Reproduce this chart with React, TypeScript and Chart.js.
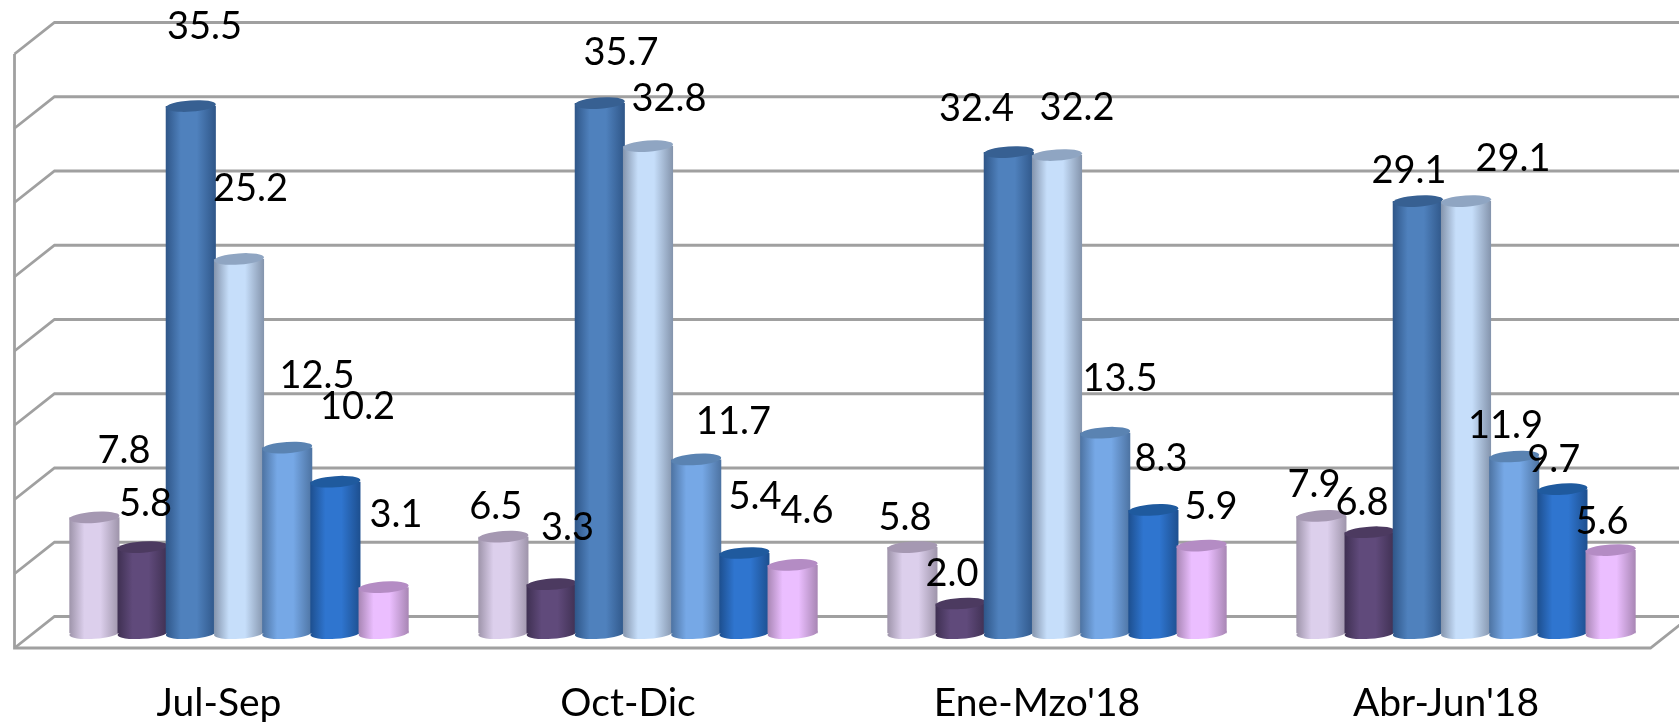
import React, { useEffect, useRef } from "react";
import { Chart, registerables } from "chart.js";

Chart.register(...registerables);

const categories = ["Jul-Sep", "Oct-Dic", "Ene-Mzo'18", "Abr-Jun'18"];
const serieA = [7.8, 6.5, 5.8, 7.9];
const serieB = [5.8, 3.3, 2.0, 6.8];
const serieC = [35.5, 35.7, 32.4, 29.1];
const serieD = [25.2, 32.8, 32.2, 29.1];
const serieE = [12.5, 11.7, 13.5, 11.9];
const serieF = [10.2, 5.4, 8.3, 9.7];
const serieG = [3.1, 4.6, 5.9, 5.6];
const seriesValues = [serieA, serieB, serieC, serieD, serieE, serieF, serieG];

const bodyColors = ["#DCCFEC", "#604A7B", "#4F81BD", "#C6DEFA", "#76A8E6", "#2F75CF", "#EBBEFF"];
const edgeColors = ["#9E94AA", "#3F3052", "#2F5688", "#8494AC", "#4D73A2", "#1D4F8F", "#A886B4"];
const topColors = ["#A598B2", "#4C3A60", "#376092", "#8FA5C2", "#5A83B2", "#1F5A9E", "#B48CC4"];

// Manual placement of each value label relative to the top of its bar (as in the source chart)
const labelShiftX = [
  [29.6, -7.7, -7.4, -7.4],
  [3, 15.9, -8.6, -7.6],
  [13.7, 21.2, -32.3, -8.8],
  [11.5, 21, 20, 47],
  [29.8, 37.2, 14.8, -8.7],
  [22.2, 10.6, 7.6, -8.7],
  [12.4, 14.4, 9.4, -8.6],
];
const labelShiftY = [
  [-66.7, -30, -29.4, -30.7],
  [-43.4, -56.5, -29.8, -29.5],
  [-79.3, -50.8, -43.4, -30],
  [-70.3, -47.4, -47.3, -41.9],
  [-71.9, -37.8, -54, -30.3],
  [-75, -56.3, -51.2, -29.5],
  [-72.5, -54.2, -38.4, -28.3],
];

const FONT = 'Lato, sans-serif';
const DEPTH_X = 20;
const BACK_Y = 16.7;
const FRONT_Y = 14.8;
const ELLIPSE_RY = 5.6;
const ELLIPSE_TILT = -0.07;
const GRID = "#A0A0A0";

const sideGradient = (ctx: CanvasRenderingContext2D, x: number, w: number, body: string, edge: string) => {
  const g = ctx.createLinearGradient(x - w / 2, 0, x + w / 2, 0);
  g.addColorStop(0, edge);
  g.addColorStop(0.3, body);
  g.addColorStop(0.62, body);
  g.addColorStop(1, edge);
  return g;
};

const cylinderPlugin = {
  id: "cylinder",
  beforeDatasetsDraw(chart: any) {
    const { ctx, scales } = chart;
    const xS = scales.x;
    const yS = scales.y;
    const frontL = xS.left - DEPTH_X;
    const backL = xS.left + DEPTH_X;
    const frontR = xS.right - DEPTH_X;
    const backR = xS.right + DEPTH_X;

    ctx.save();
    ctx.strokeStyle = GRID;
    ctx.lineWidth = 2.8;
    for (const tick of yS.ticks) {
      const y = yS.getPixelForValue(tick.value);
      ctx.beginPath();
      ctx.moveTo(frontL, y + FRONT_Y);
      ctx.lineTo(backL, y - BACK_Y);
      ctx.lineTo(backR, y - BACK_Y);
      ctx.stroke();
    }
    const y0 = yS.getPixelForValue(0);
    const yMax = yS.getPixelForValue(yS.max);
    ctx.beginPath();
    ctx.moveTo(frontL, yMax + FRONT_Y);
    ctx.lineTo(frontL, y0 + FRONT_Y);
    ctx.lineTo(frontR, y0 + FRONT_Y);
    ctx.lineTo(backR, y0 - BACK_Y);
    ctx.stroke();
    ctx.restore();

    // Later series sit in front of earlier ones
    chart.data.datasets.forEach((_: any, d: number) => {
      const meta = chart.getDatasetMeta(d);
      meta.data.forEach((el: any) => {
        const fill = sideGradient(ctx, el.x, el.width, bodyColors[d], edgeColors[d]);
        el.options = { ...el.options, backgroundColor: fill };
        ctx.save();
        ctx.fillStyle = fill;
        ctx.beginPath();
        ctx.ellipse(el.x, el.base, el.width / 2, ELLIPSE_RY, ELLIPSE_TILT, 0, Math.PI * 2);
        ctx.fill();
        ctx.restore();
      });
      meta.controller.draw();
      meta.data.forEach((el: any) => {
        ctx.save();
        ctx.fillStyle = topColors[d];
        ctx.beginPath();
        ctx.ellipse(el.x, el.y, el.width / 2, ELLIPSE_RY, ELLIPSE_TILT, 0, Math.PI * 2);
        ctx.fill();
        ctx.restore();
      });
    });

    ctx.save();
    ctx.fillStyle = "#000000";
    ctx.font = `38px ${FONT}`;
    ctx.textAlign = "center";
    ctx.textBaseline = "middle";
    chart.data.datasets.forEach((ds: any, d: number) => {
      chart.getDatasetMeta(d).data.forEach((el: any, c: number) => {
        ctx.fillText(ds.data[c].toFixed(1), el.x + labelShiftX[d][c], el.y + labelShiftY[d][c]);
      });
    });
    ctx.restore();
    return false;
  },
};

export default function App() {
  const ref = useRef<HTMLCanvasElement>(null);
  useEffect(() => {
    if (!ref.current) return;
    const chart = new Chart(ref.current, {
      type: "bar",
      data: {
        labels: categories,
        datasets: seriesValues.map((values, i) => ({
          label: `Serie ${i + 1}`,
          data: values,
          backgroundColor: bodyColors[i],
          borderWidth: 0,
          barPercentage: 1.04,
          categoryPercentage: 0.825,
        })),
      },
      options: {
        responsive: false,
        animation: false,
        devicePixelRatio: 1,
        layout: { autoPadding: false, padding: { left: 34.5, right: 8.5, top: 39.2, bottom: 0 } },
        plugins: { legend: { display: false }, title: { display: false }, tooltip: { enabled: false } },
        scales: {
          x: {
            grid: { display: false },
            border: { display: false },
            afterFit(scale: any) {
              scale.height = 722 - 633.2;
            },
            ticks: {
              autoSkip: false,
              maxRotation: 0,
              labelOffset: -20,
              padding: 39,
              color: "#000000",
              font: { family: FONT, size: 39 },
            },
          },
          y: {
            min: 0,
            max: 40,
            afterFit(scale: any) {
              scale.width = 0;
            },
            grid: { display: false },
            border: { display: false },
            ticks: { stepSize: 5, display: false },
          },
        },
      },
      plugins: [cylinderPlugin],
    } as any);
    return () => chart.destroy();
  }, []);
  return (
    <canvas
      ref={ref}
      width={1679}
      height={722}
      style={{ position: "fixed", left: 0, top: 0, width: 1679, height: 722, display: "block" }}
    />
  );
}
